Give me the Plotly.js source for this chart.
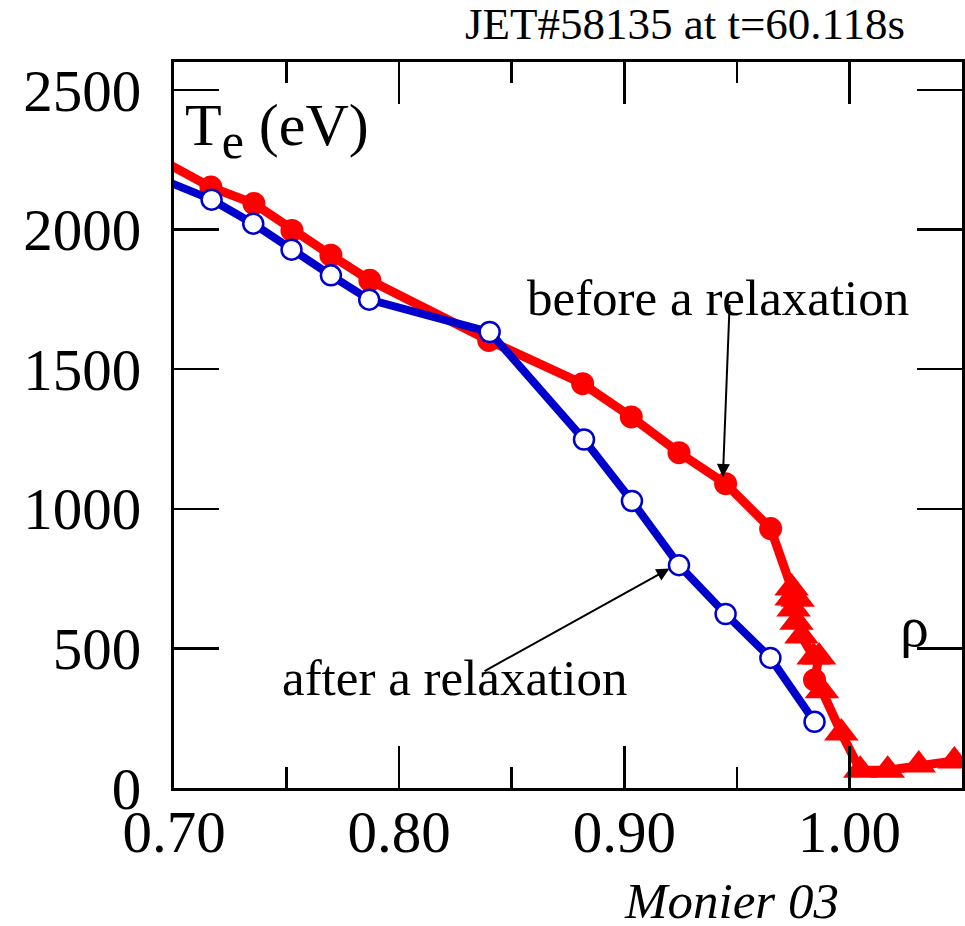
<!DOCTYPE html>
<html>
<head>
<meta charset="utf-8">
<script src="https://cdn.plot.ly/plotly-3.0.1.min.js"></script>
<style>
  html, body { margin: 0; padding: 0; background: #fff; }
  #chart { width: 965px; height: 926px; }
</style>
</head>
<body>
<div id="chart"></div>
<script>
// Electron temperature profile, JET pulse 58135 at t = 60.118 s.
// Normalised radius (rho) against Te in eV.

// Profile before the relaxation: ECE channels (circles) and edge points (triangles),
// listed in order along the profile.
const rhoBefore = [0.690, 0.7164, 0.7355, 0.7524, 0.7697, 0.7870, 0.8398, 0.8815, 0.9031,
                   0.9243, 0.9450, 0.9650, 0.9743, 0.9743, 0.9770, 0.9752, 0.9765, 0.9787,
                   0.9841, 0.9865, 0.9845, 0.9878, 0.9964, 1.0048, 1.0170, 1.0308, 1.0466];
const teBefore  = [2267, 2152, 2093, 1997, 1908, 1818, 1603, 1448, 1329,
                   1201, 1090, 929, 716, 680, 676, 641, 594, 544,
                   469, 469, 387, 348, 197, 64, 64, 82, 97];
const kindBefore = ['c', 'c', 'c', 'c', 'c', 'c', 'c', 'c', 'c',
                    'c', 'c', 'c', 't', 't', 't', 't', 't', 't',
                    't', 't', 'c', 't', 't', 't', 't', 't', 't'];

// Profile after the relaxation (open circles).
const rhoAfter = [0.690, 0.7167, 0.7352, 0.7522, 0.7697, 0.7867, 0.8402, 0.8821, 0.9034,
                  0.9243, 0.9450, 0.9649, 0.9845];
const teAfter  = [2195, 2107, 2021, 1928, 1836, 1749, 1633, 1248, 1028,
                  798, 623, 466, 237];

// Axis ticks
const xTickVals = [0.70, 0.80, 0.90, 1.00];
const xTickText = ['0.70', '0.80', '0.90', '1.00'];
const yTickVals = [0, 500, 1000, 1500, 2000, 2500];
const yTickText = ['0', '500', '1000', '1500', '2000', '2500'];

const RED = '#ff0000';
const BLUE = '#0000cc';
const SERIF = '"Liberation Serif", "Times New Roman", serif';

const before = {
  type: 'scatter',
  mode: 'lines+markers',
  x: rhoBefore,
  y: teBefore,
  line: { color: RED, width: 9 },
  marker: {
    color: RED,
    opacity: 1,
    symbol: kindBefore.map(k => (k === 't' ? 'triangle-up' : 'circle')),
    size: kindBefore.map(k => (k === 't' ? 30 : 23)),
    line: { width: 0 }
  },
  hoverinfo: 'x+y'
};

const after = {
  type: 'scatter',
  mode: 'lines+markers',
  x: rhoAfter,
  y: teAfter,
  line: { color: BLUE, width: 8 },
  marker: {
    symbol: 'circle',
    size: 20,
    opacity: 1,
    color: '#ffffff',
    line: { color: BLUE, width: 2.5 }
  },
  hoverinfo: 'x+y'
};

const axisCommon = {
  ticks: 'inside',
  tickcolor: '#000',
  tickwidth: 2.5,
  showline: true,
  linecolor: '#000',
  linewidth: 3,
  mirror: 'ticks',
  showgrid: false,
  zeroline: false,
  tickfont: { family: SERIF, size: 59, color: '#000' }
};

const layout = {
  width: 965,
  height: 926,
  margin: { l: 174, r: 3, t: 62, b: 138 },
  paper_bgcolor: '#ffffff',
  plot_bgcolor: '#ffffff',
  showlegend: false,
  font: { family: SERIF, color: '#000' },
  xaxis: Object.assign({}, axisCommon, {
    range: [0.70, 1.05],
    tickmode: 'array',
    tickvals: xTickVals,
    ticktext: xTickText,
    ticklen: 42,
    ticklabelstandoff: -10,
    minor: { dtick: 0.05, tick0: 0.70, ticks: 'inside', ticklen: 21, tickwidth: 2.5, tickcolor: '#000', showgrid: false }
  }),
  yaxis: Object.assign({}, axisCommon, {
    range: [0, 2600],
    tickmode: 'array',
    tickvals: yTickVals,
    ticktext: yTickText,
    ticklen: 45,
    ticklabelstandoff: 18
  }),
  annotations: [
    { text: 'JET#58135 at t=60.118s', xref: 'paper', yref: 'paper', x: 0.3668, y: 1.052,
      xanchor: 'left', yanchor: 'middle', showarrow: false, font: { family: SERIF, size: 45, color: '#000' } },
    { text: 'T<sub><span style="font-size:50px">e</span></sub> (eV)', xref: 'paper', yref: 'paper', x: 0.012, y: 0.905,
      xanchor: 'left', yanchor: 'middle', showarrow: false, font: { family: SERIF, size: 60, color: '#000' } },
    { text: 'before a relaxation', xref: 'paper', yref: 'paper', x: 0.446, y: 0.675,
      xanchor: 'left', yanchor: 'middle', showarrow: false, font: { family: SERIF, size: 51, color: '#000' } },
    { text: 'after a relaxation', xref: 'paper', yref: 'paper', x: 0.135, y: 0.1515,
      xanchor: 'left', yanchor: 'middle', showarrow: false, font: { family: SERIF, size: 51, color: '#000' } },
    { text: 'ρ', xref: 'paper', yref: 'paper', x: 0.94, y: 0.222,
      xanchor: 'center', yanchor: 'middle', showarrow: false, font: { family: SERIF, size: 58, color: '#000' } },
    { text: '<i>Monier 03</i>', xref: 'paper', yref: 'paper', x: 0.568, y: -0.155,
      xanchor: 'left', yanchor: 'middle', showarrow: false, font: { family: SERIF, size: 51, color: '#000' } },
    // pointer arrows to the two profiles
    { text: '', x: 0.9438, y: 1114, ax: 0.9468, ay: 1736, xref: 'x', yref: 'y', axref: 'x', ayref: 'y',
      showarrow: true, arrowhead: 2, arrowsize: 1.3, arrowwidth: 2, arrowcolor: '#000', standoff: 0 },
    { text: '', x: 0.9201, y: 786, ax: 0.8373, ay: 416, xref: 'x', yref: 'y', axref: 'x', ayref: 'y',
      showarrow: true, arrowhead: 2, arrowsize: 1.3, arrowwidth: 2, arrowcolor: '#000', standoff: 0 }
  ]
};

Plotly.newPlot('chart', [before, after], layout, { staticPlot: true, displayModeBar: false });
</script>
</body>
</html>
